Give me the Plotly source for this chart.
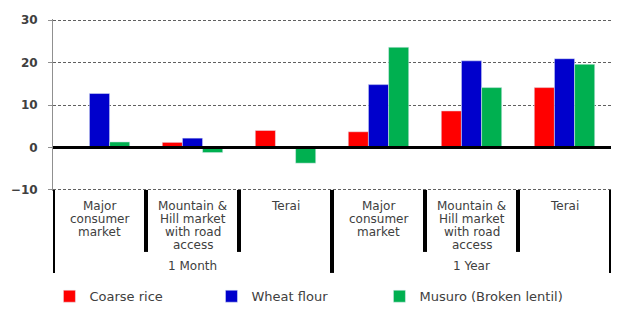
import plotly.graph_objects as go

markets = ["Major\nconsumer\nmarket", "Mountain &\nHill market\nwith road\naccess", "Terai",
           "Major\nconsumer\nmarket", "Mountain &\nHill market\nwith road\naccess", "Terai"]
periods = ["1 Month", "1 Year"]
coarse_rice = [0, 1.2, 4.0, 3.7, 8.6, 14.1]
wheat_flour = [12.7, 2.2, 0, 14.8, 20.4, 20.9]
musuro = [1.3, -1.2, -3.7, 23.6, 14.1, 19.6]

FONT = "DejaVu Sans"
x = list(range(len(markets)))
YMIN, YMAX, PAD = -10, 30, 0.25

fig = go.Figure()
fig.add_bar(x=x, y=coarse_rice, name="Coarse rice", marker_color="#FF0000", legend="legend")
fig.add_bar(x=x, y=wheat_flour, name="Wheat flour", marker_color="#0000CC", legend="legend2")
fig.add_bar(x=x, y=musuro, name="Musuro (Broken lentil)", marker_color="#00B050", legend="legend3")

leg_common = dict(orientation="h", xanchor="left", y=-0.612, yanchor="middle",
                  font=dict(size=13, color="#404040", family=FONT), bgcolor="rgba(0,0,0,0)")
fig.update_layout(
    width=619, height=320,
    margin=dict(l=53, r=8, t=19, b=118),
    paper_bgcolor="white", plot_bgcolor="white",
    barmode="group", bargap=0.35, bargroupgap=0,
    font=dict(family=FONT, color="#404040"),
    showlegend=True,
    legend=dict(x=-0.0064, **leg_common),
    legend2=dict(x=0.284, **leg_common),
    legend3=dict(x=0.585, **leg_common),
)
fig.update_xaxes(range=[-0.5, 5.5], showticklabels=False, showgrid=False, zeroline=False,
                 showline=False, ticks="")
fig.update_yaxes(range=[YMIN - PAD, YMAX + PAD], tickvals=[-10, 0, 10, 20, 30], showgrid=True,
                 gridcolor="#606060", griddash="3px,2px", gridwidth=1, zeroline=True,
                 zerolinecolor="black", zerolinewidth=2.5, showline=True, linecolor="#909090",
                 linewidth=1, ticks="outside", ticklen=4, tickcolor="#909090",
                 tickfont=dict(size=12, color="#404040", family=FONT, weight="bold"),
                 ticklabelstandoff=8)
try:
    fig.update_yaxes(zerolinelayer="above traces")
except Exception:
    pass

# separators between categories (inner) and groups (outer)
base = PAD / (YMAX - YMIN + 2 * PAD)  # paper position of y=-10
n = len(markets)
for b in range(n + 1):
    pos = b - 0.5
    outer = (b % 3 == 0)
    fig.add_shape(type="line", xref="x", yref="paper", ysizemode="pixel", yanchor=base,
                  x0=pos, x1=pos, y0=0, y1=-(83 if outer else 62),
                  line=dict(color="black", width=4))

# category labels, one annotation per line
for i, lab in enumerate(markets):
    for j, line in enumerate(lab.split("\n")):
        fig.add_annotation(x=i, y=YMIN, xref="x", yref="y", text=line, showarrow=False,
                           xanchor="center", yanchor="middle", yshift=-(15.7 + 13.2 * j),
                           font=dict(size=12, color="#404040", family=FONT))
for k, p in enumerate(periods):
    fig.add_annotation(x=3 * k + 1, y=YMIN, xref="x", yref="y", text=p, showarrow=False,
                       xanchor="center", yanchor="middle", yshift=-76,
                       font=dict(size=12, color="#404040", family=FONT))

fig.write_html("out.html")
